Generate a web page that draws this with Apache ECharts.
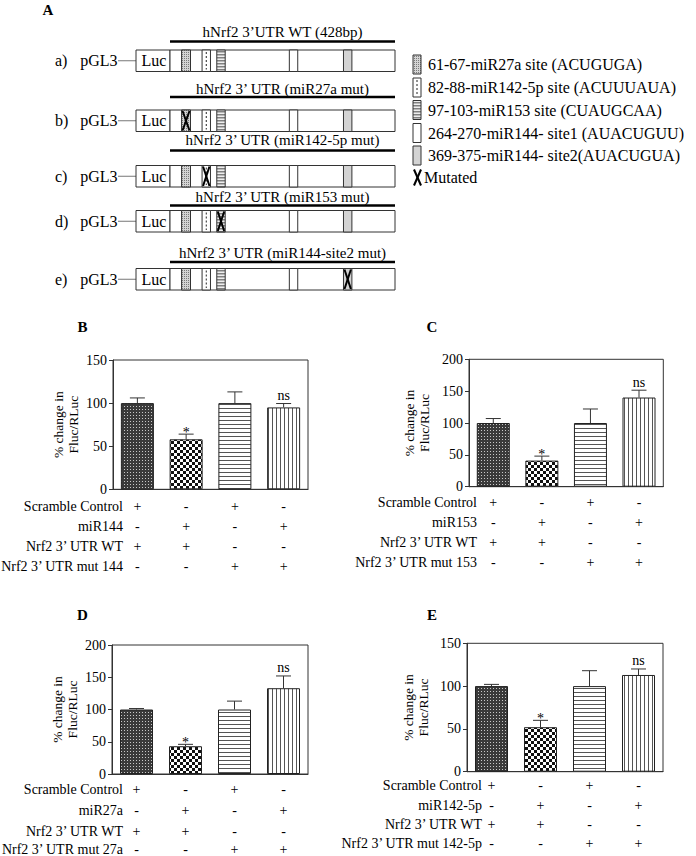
<!DOCTYPE html>
<html><head><meta charset="utf-8">
<script src="https://cdn.jsdelivr.net/npm/echarts@6/dist/echarts.min.js"></script>
<style>html,body{margin:0;padding:0;background:#fff}#main{width:696px;height:856px}</style>
</head><body><div id="main"></div>
<script>
// ================= DATA =================
const constructLetters = ['a)', 'b)', 'c)', 'd)', 'e)'];
const vectorName = 'pGL3';
const reporterName = 'Luc';
const constructTitles = ['hNrf2 3’UTR WT (428bp)', 'hNrf2 3’ UTR (miR27a mut)', 'hNrf2 3’ UTR (miR142-5p mut)', 'hNrf2 3’ UTR (miR153 mut)', 'hNrf2 3’ UTR (miR144-site2 mut)'];
const utrLength = 428;
const siteNames = ['61-67-miR27a site (ACUGUGA)', '82-88-miR142-5p site (ACUUUAUA)', '97-103-miR153 site (CUAUGCAA)', '264-270-miR144- site1 (AUACUGUU)', '369-375-miR144- site2(AUACUGUA)'];
// schematic (not-to-scale) site positions along the 428bp UTR axis
const siteStart = [22, 61, 89, 227, 330];
const siteEnd = [39, 77, 105, 243, 346];
const mutatedSiteOf = [-1, 0, 1, 2, 4];
const mutatedLabel = 'Mutated';

const conditions = ['c1', 'c2', 'c3', 'c4'];
const rowScramble = ['+', '-', '+', '-'];
const rowMiR = ['-', '+', '-', '+'];
const rowWT = ['+', '+', '-', '-'];
const rowMut = ['-', '-', '+', '+'];

const yAxisTitle = '% change in\nFluc/RLuc';

const ticksB = [0, 50, 100, 150];
const valuesB = [100, 58, 100, 95];
const errorsB = [6, 6, 13, 4.5];
const marksB = ['', '*', '', 'ns'];
const rowLabelsB = ['Scramble Control', 'miR144', 'Nrf2 3’ UTR WT', 'Nrf2 3’ UTR mut 144'];

const ticksC = [0, 50, 100, 150, 200];
const valuesC = [100, 41, 100, 140];
const errorsC = [7, 7, 22, 11.5];
const marksC = ['', '*', '', 'ns'];
const rowLabelsC = ['Scramble Control', 'miR153', 'Nrf2 3’ UTR WT', 'Nrf2 3’ UTR mut 153'];

const ticksD = [0, 50, 100, 150, 200];
const valuesD = [100, 43, 100, 133];
const errorsD = [1.5, 3, 13, 19];
const marksD = ['', '*', '', 'ns'];
const rowLabelsD = ['Scramble Control', 'miR27a', 'Nrf2 3’ UTR WT', 'Nrf2 3’ UTR mut 27a'];

const ticksE = [0, 50, 100, 150];
const valuesE = [100, 52, 100, 113];
const errorsE = [2, 8, 18, 7];
const marksE = ['', '*', '', 'ns'];
const rowLabelsE = ['Scramble Control', 'miR142-5p', 'Nrf2 3’ UTR WT', 'Nrf2 3’ UTR mut 142-5p'];

// ================= STYLE =================
const FONT = "'Liberation Serif','Times New Roman',Times,serif";
const INK = '#000';
const LINE = '#333';

function pattern(w, h, draw) {
  const c = document.createElement('canvas'); c.width = w; c.height = h;
  const ctx = c.getContext('2d'); draw(ctx);
  return { image: c, repeat: 'repeat', imageWidth: w, imageHeight: h };
}
const fillDense = pattern(3, 3, ctx => { ctx.fillStyle = '#3a3a3a'; ctx.fillRect(0, 0, 3, 3); ctx.fillStyle = '#c8c8c8'; ctx.fillRect(1, 1, 1, 1); });
const fillChecker = pattern(6, 6, ctx => { ctx.fillStyle = '#fff'; ctx.fillRect(0, 0, 6, 6); ctx.fillStyle = '#111'; ctx.fillRect(0, 0, 3, 3); ctx.fillRect(3, 3, 3, 3); });
const fillHLines = pattern(4, 4, ctx => { ctx.fillStyle = '#fff'; ctx.fillRect(0, 0, 4, 4); ctx.fillStyle = '#555'; ctx.fillRect(0, 0, 4, 1); });
const fillVLines = pattern(4, 4, ctx => { ctx.fillStyle = '#fff'; ctx.fillRect(0, 0, 4, 4); ctx.fillStyle = '#555'; ctx.fillRect(0, 0, 1, 4); });
const barFills = [fillDense, fillChecker, fillHLines, fillVLines];

const siteStipple = pattern(2, 2, ctx => { ctx.fillStyle = '#d4d4d4'; ctx.fillRect(0, 0, 2, 2); ctx.fillStyle = '#7a7a7a'; ctx.fillRect(0, 0, 1, 1); });
const siteStripes = pattern(3, 3, ctx => { ctx.fillStyle = '#eeeeee'; ctx.fillRect(0, 0, 3, 3); ctx.fillStyle = '#808080'; ctx.fillRect(0, 0, 3, 1); ctx.fillStyle = '#b8b8b8'; ctx.fillRect(0, 1, 3, 1); });
const siteFills = [siteStipple, '#fff', siteStripes, '#fff', '#d3d3d3'];

function siteShape(x, y, w, h, type, mutated) {
  const ch = [];
  ch.push({ type: 'rect', shape: { x, y, width: w, height: h }, style: { fill: siteFills[type], stroke: LINE, lineWidth: 1 } });
  if (type === 1) ch.push({ type: 'line', shape: { x1: x + w / 2, y1: y + 2, x2: x + w / 2, y2: y + h - 2 }, style: { stroke: '#222', lineWidth: 1, lineDash: [2, 2] } });
  if (mutated) {
    ch.push({ type: 'line', shape: { x1: x + 1, y1: y + 1, x2: x + w - 1, y2: y + h - 1 }, style: { stroke: '#000', lineWidth: 2 } });
    ch.push({ type: 'line', shape: { x1: x + w - 1, y1: y + 1, x2: x + 1, y2: y + h - 1 }, style: { stroke: '#000', lineWidth: 2 } });
  }
  return ch;
}

function renderConstruct(params, api) {
  const cs = params.coordSys;
  const x0 = api.coord([api.value(0), 0])[0];
  const x1 = api.coord([api.value(1), 0])[0];
  const t = api.value(2), m = api.value(3);
  if (t < 0) return { type: 'rect', shape: { x: x0, y: cs.y, width: x1 - x0, height: cs.height }, style: { fill: '#fff', stroke: LINE, lineWidth: 1 } };
  return { type: 'group', children: siteShape(x0, cs.y, x1 - x0, cs.height, t, m) };
}

// ================= LAYOUT =================
const rowBoxTop = [50, 110, 165.5, 210.5, 268.5];
const rowBoxH = 21.5;
const titleLineY = [41.5, 97, 150.5, 205.5, 262];
const titleTextY = [31.5, 88.5, 140, 196.5, 253];
const utrLeft = 170, utrWidth = 225, lucLeft = 136;

const option = { animation: false, backgroundColor: '#fff', grid: [], xAxis: [], yAxis: [], series: [], graphic: [] };
const G = option.graphic;
function txt(x, y, text, size, align, vAlign, bold) {
  G.push({ type: 'text', x, y, silent: true, style: { text, fontSize: size, fontFamily: FONT, fontWeight: bold ? 'bold' : 'normal', fill: INK, align: align || 'left', verticalAlign: vAlign || 'middle' } });
}

// ---- Panel A ----
txt(48, 10, 'A', 15, 'center', 'middle', true);
constructTitles.forEach((title, i) => {
  option.grid.push({ left: utrLeft, width: utrWidth, top: rowBoxTop[i], height: rowBoxH, show: false, outerBoundsMode: 'none' });
  option.xAxis.push({ gridIndex: i, type: 'value', min: 0, max: utrLength, show: false });
  option.yAxis.push({ gridIndex: i, type: 'value', min: 0, max: 1, show: false });
  const data = [[0, utrLength, -1, 0]];
  siteStart.forEach((s, k) => data.push([s, siteEnd[k], k, mutatedSiteOf[i] === k ? 1 : 0]));
  option.series.push({ type: 'custom', xAxisIndex: i, yAxisIndex: i, data, renderItem: renderConstruct, silent: true, clip: false });

  const cy = rowBoxTop[i] + rowBoxH / 2;
  txt(55, cy, constructLetters[i], 16, 'left');
  txt(117.5, cy, vectorName, 16, 'right');
  G.push({ type: 'line', silent: true, shape: { x1: 118, y1: cy, x2: lucLeft, y2: cy }, style: { stroke: '#777', lineWidth: 1 } });
  G.push({ type: 'rect', silent: true, shape: { x: lucLeft, y: rowBoxTop[i], width: utrLeft - lucLeft, height: rowBoxH }, style: { fill: '#fff', stroke: LINE, lineWidth: 1 } });
  txt(154, cy, reporterName, 16, 'center');
  G.push({ type: 'line', silent: true, shape: { x1: utrLeft, y1: titleLineY[i], x2: utrLeft + utrWidth, y2: titleLineY[i] }, style: { stroke: '#000', lineWidth: 2.5 } });
  txt(utrLeft + utrWidth / 2, titleTextY[i], title, 15, 'center');
});

// legend of panel A
const legendY = [64.5, 87.5, 110, 133, 155.5, 177.5];
siteNames.forEach((name, k) => {
  G.push({ type: 'group', silent: true, children: siteShape(413, legendY[k] - 9.5, 8, 19, k, 0) });
  txt(428, legendY[k], name, 16, 'left');
});
G.push({ type: 'group', silent: true, children: [
  { type: 'line', shape: { x1: 414, y1: legendY[5] - 8, x2: 421, y2: legendY[5] + 8 }, style: { stroke: '#000', lineWidth: 2 } },
  { type: 'line', shape: { x1: 421, y1: legendY[5] - 8, x2: 414, y2: legendY[5] + 8 }, style: { stroke: '#000', lineWidth: 2 } }
] });
txt(424, legendY[5], mutatedLabel, 16, 'left');

// ---- Bar panels ----
const panels = [
  { letter: 'B', lx: 82.5, ly: 327, grid: { left: 113, top: 360, width: 195, height: 129.3 }, ticks: ticksB, values: valuesB, errors: errorsB, marks: marksB, rowLabels: rowLabelsB, rowOffsets: [17, 37, 57, 77], labelGap: -10, yNameGap: 32 },
  { letter: 'C', lx: 432, ly: 327, grid: { left: 469, top: 359.3, width: 194.3, height: 127.4 }, ticks: ticksC, values: valuesC, errors: errorsC, marks: marksC, rowLabels: rowLabelsC, rowOffsets: [16, 36, 56, 75.5], labelGap: -8, yNameGap: 37 },
  { letter: 'D', lx: 82.5, ly: 615, grid: { left: 112, top: 645, width: 196, height: 129 }, ticks: ticksD, values: valuesD, errors: errorsD, marks: marksD, rowLabels: rowLabelsD, rowOffsets: [15, 36.5, 57, 75], labelGap: -11, yNameGap: 32 },
  { letter: 'E', lx: 432, ly: 615, grid: { left: 467, top: 643.3, width: 196, height: 128.4 }, ticks: ticksE, values: valuesE, errors: errorsE, marks: marksE, rowLabels: rowLabelsE, rowOffsets: [13.5, 33.5, 52.5, 71.5], labelGap: -15, yNameGap: 36 }
];
const rows = [rowScramble, rowMiR, rowWT, rowMut];

panels.forEach((p) => {
  const gi = option.grid.length;
  option.grid.push(Object.assign({ show: true, borderColor: LINE, borderWidth: 1, backgroundColor: 'transparent', containLabel: false, outerBoundsMode: 'none' }, p.grid));
  const xi = option.xAxis.length;
  option.xAxis.push({ gridIndex: gi, type: 'category', data: conditions, axisLabel: { show: false }, axisTick: { show: false }, axisLine: { lineStyle: { color: LINE, width: 1 } } });
  rows.forEach((r, k) => {
    option.xAxis.push({
      gridIndex: gi, type: 'category', data: r, position: 'bottom', offset: p.rowOffsets[k],
      axisLine: { show: false }, axisTick: { show: false }, splitLine: { show: false },
      axisLabel: { interval: 0, margin: 0, verticalAlign: 'middle', fontSize: 14, fontFamily: FONT, color: INK },
      name: p.rowLabels[k], nameLocation: 'start', nameGap: p.labelGap, nameMoveOverlap: false,
      nameTextStyle: { fontSize: 14, fontFamily: FONT, color: INK, align: 'right', verticalAlign: 'middle' }
    });
  });
  const yi = option.yAxis.length;
  const t = p.ticks;
  option.yAxis.push({
    gridIndex: gi, type: 'value', min: t[0], max: t[t.length - 1], interval: t[1] - t[0],
    axisLine: { show: true, lineStyle: { color: LINE, width: 1 } },
    axisTick: { show: true, length: 4, lineStyle: { color: LINE } },
    splitLine: { show: false },
    axisLabel: { fontSize: 14, fontFamily: FONT, color: INK, margin: 6 },
    name: yAxisTitle, nameLocation: 'middle', nameGap: p.yNameGap,
    nameTextStyle: { fontSize: 13.5, lineHeight: 15, fontFamily: FONT, color: INK }
  });
  option.series.push({
    type: 'bar', xAxisIndex: xi, yAxisIndex: yi, barWidth: 33, silent: true,
    itemStyle: { borderColor: '#222', borderWidth: 1 },
    data: p.values.map((v, i) => ({ value: v, itemStyle: { color: barFills[i] } }))
  });
  const marks = p.marks;
  option.series.push({
    type: 'custom', xAxisIndex: xi, yAxisIndex: yi, silent: true, clip: false, z: 5,
    data: p.values.map((v, i) => [i, v, p.errors[i]]),
    renderItem: (params, api) => {
      const i = api.value(0), v = api.value(1), e = api.value(2);
      const a = api.coord([i, v]), b = api.coord([i, v + e]);
      const ch = [
        { type: 'line', shape: { x1: a[0], y1: a[1], x2: b[0], y2: b[1] }, style: { stroke: LINE, lineWidth: 1 } },
        { type: 'line', shape: { x1: b[0] - 7.5, y1: b[1], x2: b[0] + 7.5, y2: b[1] }, style: { stroke: LINE, lineWidth: 1 } }
      ];
      const m = marks[params.dataIndex];
      if (m) ch.push({ type: 'text', x: b[0], y: m === '*' ? b[1] + 5 : b[1] - 1, style: { text: m, fontSize: 14, fontFamily: FONT, fill: INK, align: 'center', verticalAlign: 'bottom' } });
      return { type: 'group', children: ch };
    }
  });
  txt(p.lx, p.ly, p.letter, 15, 'center', 'middle', true);
});

const chart = echarts.init(document.getElementById('main'), null, { renderer: 'svg', width: 696, height: 856 });
chart.setOption(option);
</script></body></html>
